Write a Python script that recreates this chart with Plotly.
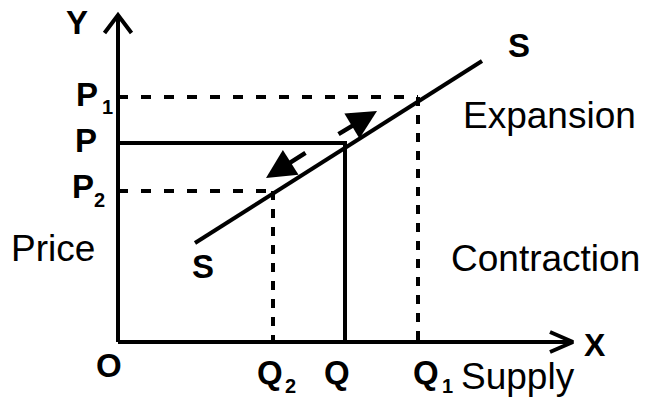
import plotly.graph_objects as go

# ---- data (chart units) ----
quantities = {"Q2": 15.5, "Q": 22.7, "Q1": 30.0}
prices = {"P2": 15.1, "P": 19.9, "P1": 24.5}
supply_x = [7.7, 36.4]
supply_y = [9.9, 28.1]
axis_x_end = 45.5
axis_y_end = 32.7
expansion_arrow = [(21.9, 20.7), (25.9, 23.1)]     # tail, head
contraction_arrow = [(18.9, 19.0), (14.8, 16.4)]   # tail, head

FONT = "Liberation Sans, Arial, sans-serif"
BLACK = "#000000"
LW = 4

fig = go.Figure()

def line(xs, ys, dash="solid", width=LW):
    fig.add_trace(go.Scatter(x=xs, y=ys, mode="lines", hoverinfo="skip",
                             line=dict(color=BLACK, width=width, dash=dash),
                             showlegend=False))

# axes
line([0, 0], [0, axis_y_end])
line([0, axis_x_end], [0, 0])
# open chevron arrowheads
yh_len, yh_half = 1.8, 1.35
line([-yh_half, 0, yh_half], [axis_y_end - yh_len, axis_y_end, axis_y_end - yh_len])
xh_len, xh_half = 2.3, 1.0
line([axis_x_end - xh_len, axis_x_end, axis_x_end - xh_len], [xh_half, 0, -xh_half])

# supply curve
line(supply_x, supply_y)

# equilibrium (solid)
q, p = quantities["Q"], prices["P"]
line([0, q, q], [p, p, 0])

# dashed guides
hd = "10px,13px"
vd = "9px,9px"
for qk, pk in (("Q1", "P1"), ("Q2", "P2")):
    qq, pp = quantities[qk], prices[pk]
    line([0, qq], [pp, pp], dash=hd, width=LW)
    line([qq, qq], [pp, 0], dash=vd, width=LW)

# movement arrows along the supply curve
for (tx, ty), (hx, hy) in (expansion_arrow, contraction_arrow):
    fig.add_annotation(x=hx, y=hy, ax=tx, ay=ty, xref="x", yref="y",
                       axref="x", ayref="y", text="", showarrow=True,
                       arrowhead=2, arrowsize=1.3, arrowwidth=4.5,
                       arrowcolor=BLACK, standoff=0, startstandoff=0)

def px(xp, yp):
    return (xp - 118) / 10.0, (342 - yp) / 10.0

def label(text, xp, yp, size, bold=True):
    x, y = px(xp, yp)
    fig.add_annotation(x=x, y=y, xref="x", yref="y", text=text, showarrow=False,
                       xanchor="center", yanchor="middle",
                       font=dict(family=FONT, size=size, color=BLACK,
                                 weight="bold" if bold else "normal"))

BIG = 33
SUB = 20
REG = 37
label("Y", 77, 22, 33)
label("X", 595, 345, 32)
label("O", 109, 365, BIG)
label("P", 87, 94, BIG); label("1", 107, 107, SUB)
label("P", 86, 140, BIG)
label("P", 83, 186, BIG); label("2", 99, 200, SUB)
label("Q", 270, 372, BIG); label("2", 290, 386, SUB)
label("Q", 337, 372, BIG)
label("Q", 426, 372, BIG); label("1", 447, 386, SUB)
label("S", 519, 45, BIG)
label("S", 203, 266, BIG)
label("Price", 53, 248, REG, bold=False)
label("Expansion", 549, 115, REG, bold=False)
label("Contraction", 545, 258, REG, bold=False)
label("Supply", 518, 376, REG, bold=False)

fig.update_layout(
    width=647, height=408,
    margin=dict(l=0, r=0, t=0, b=0),
    paper_bgcolor="white", plot_bgcolor="white",
    xaxis=dict(range=[-118 / 10.0, (647 - 118) / 10.0], visible=False, fixedrange=True),
    yaxis=dict(range=[(342 - 408) / 10.0, 342 / 10.0], visible=False, fixedrange=True),
    showlegend=False,
    hovermode=False,
)
fig.write_html("out.html", config={"displayModeBar": False, "staticPlot": True},
               post_script="document.body.style.margin='0';")
